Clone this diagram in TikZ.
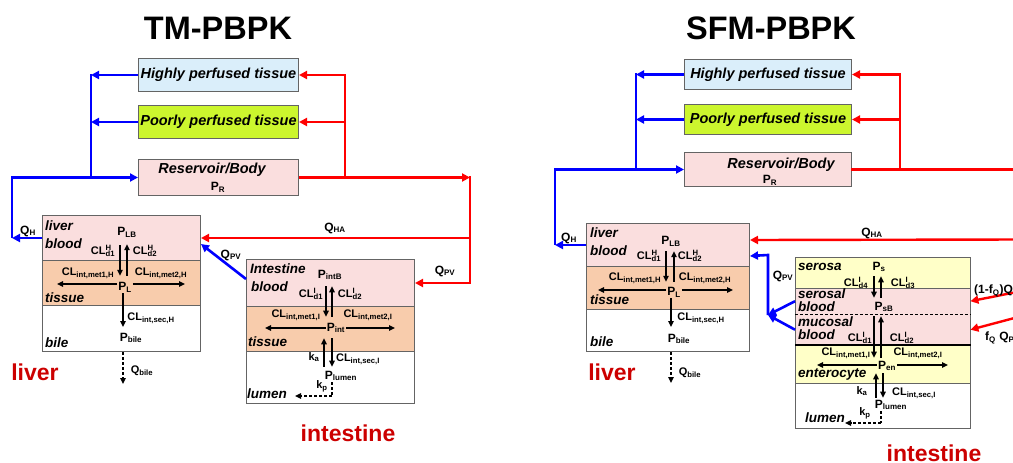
\documentclass[tikz,border=0pt]{standalone}
\usepackage{fontspec}
\setmainfont{Liberation Sans}
\usetikzlibrary{arrows.meta,calc}
\definecolor{hpc}{RGB}{218,238,250}
\definecolor{ppc}{RGB}{204,246,46}
\definecolor{pkc}{RGB}{250,222,222}
\definecolor{tsc}{RGB}{248,204,172}
\definecolor{ylc}{RGB}{255,255,200}
\definecolor{bdc}{RGB}{100,100,100}
\definecolor{orgc}{RGB}{204,0,0}
\newcommand\sbx[1]{\textsubscript{#1}}
\newcommand\spsb[2]{\rlap{\textsuperscript{#1}}\textsubscript{#2}}
\begin{document}
\begin{tikzpicture}[x=1pt,y=-1pt,
  box/.style={draw=bdc,line width=1pt,anchor=north west,inner sep=0pt,
    font=\fontsize{14.5}{16}\selectfont\bfseries\itshape},
  lay/.style={draw=bdc,line width=1pt,anchor=north west,inner sep=0pt},
  layf/.style={draw=none,anchor=north west,inner sep=0pt},
  title/.style={font=\fontsize{32.5}{36}\selectfont\bfseries},
  organ/.style={font=\fontsize{23}{26}\selectfont\bfseries,text=orgc},
  reg/.style={anchor=west,inner sep=0pt,font=\fontsize{13.5}{15}\selectfont\bfseries\itshape},
  plbl/.style={inner sep=1pt,font=\fontsize{12}{13}\selectfont\bfseries},
  clbl/.style={inner sep=1pt,font=\fontsize{11}{12}\selectfont\bfseries},
  btxt/.style={inner sep=0pt,font=\fontsize{14.5}{16}\selectfont\bfseries\itshape},
  conb/.style={draw=blue,line width=2.6pt,-{Triangle[length=8pt,width=8pt]}},
  linb/.style={draw=blue,line width=2.6pt,line cap=rect},
  conr/.style={draw=red,line width=2.4pt,-{Triangle[length=8pt,width=8pt]}},
  linr/.style={draw=red,line width=2.4pt,line cap=rect},
  arr/.style={draw=black,line width=1.4pt,-{Triangle[length=6pt,width=5.5pt]}},
  darr/.style={draw=black,line width=1.4pt,dashed,dash pattern=on 3pt off 2pt,-{Triangle[length=6pt,width=5.5pt]}},
  dlin/.style={draw=black,line width=1.4pt,dash pattern=on 3pt off 2pt},
]
\useasboundingbox (0,0) rectangle (1013,463);

%================ LEFT: TM-PBPK =================
\node[title] (t1) at (218,28) {TM-PBPK};
\node[box,fill=hpc,minimum width=160,minimum height=33] (hp1) at (138,58) {Highly perfused tissue};
\node[box,fill=ppc,minimum width=160,minimum height=33] (pp1) at (138,105) {Poorly perfused tissue};
\node[box,fill=pkc,minimum width=160,minimum height=36] (rb1) at (138,159) {};
\node[btxt] (rb1t) at (212,170) {Reservoir/Body};
\node[plbl] (pr1) at (218,187) {P\sbx{R}};

% liver
\node[lay,fill=pkc,minimum width=158,minimum height=45] (lb1) at (42,215) {};
\node[lay,fill=tsc,minimum width=158,minimum height=45] (lt1) at (42,260) {};
\node[lay,fill=white,minimum width=158,minimum height=46] (lbl1) at (42,305) {};
\node[reg] (r1a) at (45,226) {liver};
\node[reg] (r1b) at (45,244) {blood};
\node[reg] (r1c) at (45,298) {tissue};
\node[reg] (r1d) at (45,343) {bile};
\node[plbl] (plb1) at (127,232) {P\sbx{LB}};
\node[clbl] (cd11) at (103,251) {CL\spsb{H}{d1}};
\node[clbl] (cd21) at (145,251) {CL\spsb{H}{d2}};
\node[plbl] (pl1) at (125,287) {P\sbx{L}};
\node[clbl] (cm11) at (88,273) {CL\sbx{int,met1,H}};
\node[clbl] (cm21) at (161,273) {CL\sbx{int,met2,H}};
\node[clbl] (cs1) at (151,318) {CL\sbx{int,sec,H}};
\node[plbl] (pb1) at (131,338) {P\sbx{bile}};
\node[clbl] (qb1) at (142,371) {Q\sbx{bile}};
\node[organ] (o1) at (35,372) {liver};
\coordinate (lx1) at (57,284);
\coordinate (rx1) at (185,284);
\coordinate (ds1) at (123,327);
\coordinate (dq1) at (123,384);
\draw[arr,shorten <=7pt,shorten >=5pt] (plb1.south -| 120,0) -- (pl1.north -| 120,0);
\draw[arr,shorten <=5pt,shorten >=6pt] (pl1.north -| 127,0) -- (plb1.south -| 127,0);
\draw[arr] (pl1.west |- 0,284) -- (lx1);
\draw[arr] (pl1.east |- 0,284) -- (rx1);
\draw[arr] (pl1.south -| 123,0) -- (ds1);
\draw[darr] (lbl1.south -| 123,0) -- (dq1);

% intestine
\node[lay,fill=pkc,minimum width=168,minimum height=47] (ib1) at (246,259) {};
\node[lay,fill=tsc,minimum width=168,minimum height=45] (it1) at (246,306) {};
\node[lay,fill=white,minimum width=168,minimum height=52] (il1) at (246,351) {};
\node[reg] (r1e) at (250,269) {Intestine};
\node[reg] (r1f) at (251,287) {blood};
\node[reg] (r1g) at (248,342) {tissue};
\node[reg] (r1h) at (247,394) {lumen};
\node[plbl] (pib1) at (330,275) {P\sbx{intB}};
\node[clbl] (ci11) at (311,294) {CL\spsb{I}{d1}};
\node[clbl] (ci21) at (350,294) {CL\spsb{I}{d2}};
\node[plbl] (pin1) at (336,328) {P\sbx{int}};
\node[clbl] (cim11) at (296,315) {CL\sbx{int,met1,I}};
\node[clbl] (cim21) at (368,315) {CL\sbx{int,met2,I}};
\node[clbl] (ka1) at (314,357) {k\sbx{a}};
\node[clbl] (cis1) at (358,359) {CL\sbx{int,sec,I}};
\node[plbl] (plu1) at (341,376) {P\sbx{lumen}};
\node[clbl] (kp1) at (322,386) {k\sbx{p}};
\node[organ] (o2) at (348,433) {intestine};
\coordinate (lx2) at (265,328);
\coordinate (rx2) at (395,328);
\coordinate (dk1) at (332,396);
\coordinate (dk2) at (295,396);
\draw[arr,shorten <=5pt,shorten >=5pt] (pib1.south -| 326,0) -- (pin1.north -| 326,0);
\draw[arr,shorten <=5pt,shorten >=5pt] (pin1.north -| 332,0) -- (pib1.south -| 332,0);
\draw[arr] (pin1.west |- 0,328) -- (lx2);
\draw[arr] (pin1.east |- 0,328) -- (rx2);
\draw[arr,shorten <=3pt,shorten >=4pt] (plu1.north -| 324,0) -- (pin1.south -| 324,0);
\draw[arr,shorten <=4pt,shorten >=3pt] (pin1.south -| 332,0) -- (plu1.north -| 332,0);
\draw[dlin] (plu1.south -| 332,0) -- (dk1);
\draw[darr] (dk1) -- (dk2);

% blue (venous) connectors
\coordinate (bj1) at (91,0 |- hp1.west);
\coordinate (bj2) at (91,0 |- pp1.west);
\coordinate (bj3) at (91,0 |- rb1.west);
\coordinate (bq1) at (12,0 |- rb1.west);
\coordinate (bq2) at (12,0 |- lb1.west);
\draw[linb] (bj1) -- (bj3);
\draw[conb] (hp1.west) -- (bj1);
\draw[conb] (pp1.west) -- (bj2);
\draw[conb] (lb1.west) -- (bq2);
\draw[conb] (bq2) -- (bq1) -- (rb1.west);
\draw[conb] ([yshift=4pt]ib1.west) -- ([yshift=-6pt]lb1.east);
% red (arterial) connectors
\coordinate (rj1) at (345,0 |- hp1.east);
\coordinate (rj2) at (345,0 |- pp1.east);
\coordinate (rj3) at (345,0 |- rb1.east);
\coordinate (rk1) at (470,0 |- rb1.east);
\coordinate (rk2) at (470,0 |- lb1.east);
\coordinate (rk3) at (470,0 |- ib1.east);
\draw[linr] (rj1) -- (rj3);
\draw[linr] (rk1) -- (rk3);
\draw[conr] (rb1.east) -- (rk1);
\draw[conr] (rj1) -- (hp1.east);
\draw[conr] (rj2) -- (pp1.east);
\draw[conr] (rk2) -- (lb1.east);
\draw[conr] (rk3) -- (ib1.east);
\node[plbl] (qh1) at (28,231) {Q\sbx{H}};
\node[plbl] (qha1) at (335,228) {Q\sbx{HA}};
\node[plbl] (qpv1) at (231,255) {Q\sbx{PV}};
\node[plbl] (qpv2) at (445,271) {Q\sbx{PV}};

%================ RIGHT: SFM-PBPK =================
\node[title] (t2) at (771,28) {SFM-PBPK};
\node[box,fill=hpc,minimum width=167,minimum height=30] (hp2) at (684,59) {Highly perfused tissue};
\node[box,fill=ppc,minimum width=167,minimum height=30] (pp2) at (684,104) {Poorly perfused tissue};
\node[box,fill=pkc,minimum width=167,minimum height=34] (rb2) at (684,152) {};
\node[btxt] (rb2t) at (781,165) {Reservoir/Body};
\node[plbl] (pr2) at (770,180) {P\sbx{R}};

% liver
\node[lay,fill=pkc,minimum width=163,minimum height=43] (lb2) at (586,223) {};
\node[lay,fill=tsc,minimum width=163,minimum height=43] (lt2) at (586,266) {};
\node[lay,fill=white,minimum width=163,minimum height=42] (lbl2) at (586,309) {};
\node[reg] (r2a) at (590,233) {liver};
\node[reg] (r2b) at (590,251) {blood};
\node[reg] (r2c) at (590,300) {tissue};
\node[reg] (r2d) at (590,342) {bile};
\node[plbl] (plb2) at (671,241) {P\sbx{LB}};
\node[clbl] (cd12) at (649,256) {CL\spsb{H}{d1}};
\node[clbl] (cd22) at (690,256) {CL\spsb{H}{d2}};
\node[plbl] (pl2) at (674,292) {P\sbx{L}};
\node[clbl] (cm12) at (635,278) {CL\sbx{int,met1,H}};
\node[clbl] (cm22) at (705,278) {CL\sbx{int,met2,H}};
\node[clbl] (cs2) at (701,318) {CL\sbx{int,sec,H}};
\node[plbl] (pb2) at (679,339) {P\sbx{bile}};
\node[clbl] (qb2) at (690,373) {Q\sbx{bile}};
\node[organ] (o3) at (612,372) {liver};
\coordinate (lx3) at (598,290);
\coordinate (rx3) at (733,290);
\coordinate (ds3) at (671,327);
\coordinate (dq3) at (671,383);
\draw[arr,shorten <=4pt,shorten >=4pt] (plb2.south -| 666,0) -- (pl2.north -| 666,0);
\draw[arr,shorten <=4pt,shorten >=4pt] (pl2.north -| 674,0) -- (plb2.south -| 674,0);
\draw[arr] (pl2.west |- 0,290) -- (lx3);
\draw[arr] (pl2.east |- 0,290) -- (rx3);
\draw[arr] (pl2.south -| 671,0) -- (ds3);
\draw[darr] (lbl2.south -| 671,0) -- (dq3);

% intestine
\node[lay,fill=ylc,minimum width=175,minimum height=31] (se2) at (795,257) {};
\node[layf,fill=pkc,minimum width=175,minimum height=26] (sb2) at (795,288) {};
\node[layf,fill=pkc,minimum width=175,minimum height=31] (mb2) at (795,314) {};
\node[lay,fill=ylc,minimum width=175,minimum height=38] (en2) at (795,345) {};
\node[lay,fill=white,minimum width=175,minimum height=45] (lu2) at (795,383) {};
\draw[draw=bdc,line width=1pt] (sb2.north west) rectangle (mb2.south east);
\draw[dlin,line width=1.5pt] (sb2.south west) -- (sb2.south east);
\draw[line width=1.6pt] (en2.north west) -- (en2.north east);
\node[reg] (r2e) at (798,267) {serosa};
\node[reg] (r2f) at (798,294) {serosal};
\node[reg] (r2g) at (798,307) {blood};
\node[reg] (r2h) at (798,322) {mucosal};
\node[reg] (r2i) at (798,335) {blood};
\node[reg] (r2j) at (798,374) {enterocyte};
\node[reg] (r2k) at (805,418) {lumen};
\node[plbl] (ps2) at (879,267) {P\sbx{s}};
\node[clbl] (cd42) at (856,283) {CL\spsb{I}{d4}};
\node[clbl] (cd32) at (903,283) {CL\spsb{I}{d3}};
\node[plbl] (psb2) at (884,307) {P\sbx{sB}};
\node[clbl] (cd1b) at (860,338) {CL\spsb{I}{d1}};
\node[clbl] (cd2b) at (902,338) {CL\spsb{I}{d2}};
\node[clbl] (cm1b) at (846,353) {CL\sbx{int,met1,I}};
\node[clbl] (cm2b) at (918,353) {CL\sbx{int,met2,I}};
\node[plbl] (pen2) at (887,366) {P\sbx{en}};
\node[clbl] (ka2) at (862,391) {k\sbx{a}};
\node[clbl] (cis2) at (914,393) {CL\sbx{int,sec,I}};
\node[plbl] (plu2) at (891,405) {P\sbx{lumen}};
\node[clbl] (kp2) at (865,413) {k\sbx{p}};
\node[organ] (o4) at (934,453) {intestine};
\coordinate (lx4) at (817,365);
\coordinate (rx4) at (948,365);
\coordinate (dk3) at (881,423);
\coordinate (dk4) at (845,423);
\draw[arr,shorten <=3pt,shorten >=3pt] (ps2.south -| 874,0) -- (psb2.north -| 874,0);
\draw[arr,shorten <=3pt,shorten >=3pt] (psb2.north -| 881,0) -- (ps2.south -| 881,0);
\draw[arr,shorten <=3pt,shorten >=2pt] (psb2.south -| 874,0) -- (pen2.north -| 874,0);
\draw[arr,shorten <=2pt,shorten >=3pt] (pen2.north -| 881,0) -- (psb2.south -| 881,0);
\draw[arr] (pen2.west |- 0,365) -- (lx4);
\draw[arr] (pen2.east |- 0,365) -- (rx4);
\draw[arr,shorten <=1pt,shorten >=1pt] (plu2.north -| 876,0) -- (pen2.south -| 876,0);
\draw[arr,shorten <=1pt,shorten >=1pt] (pen2.south -| 883,0) -- (plu2.north -| 883,0);
\draw[dlin] (plu2.south -| 881,0) -- (dk3);
\draw[darr] (dk3) -- (dk4);

% blue connectors
\coordinate (bj4) at (636,0 |- hp2.west);
\coordinate (bj5) at (636,0 |- pp2.west);
\coordinate (bj6) at (636,0 |- rb2.west);
\coordinate (bq3) at (555,0 |- rb2.west);
\coordinate (bq4) at (555,0 |- lb2.west);
\coordinate (jn2) at (768,315);
\coordinate (jn3) at (768,255);
\draw[linb] (bj4) -- (bj6);
\draw[conb] (hp2.west) -- (bj4);
\draw[conb] (pp2.west) -- (bj5);
\draw[conb] (lb2.west) -- (bq4);
\draw[conb] (bq4) -- (bq3) -- (rb2.west);
\draw[conb] (sb2.west) -- (jn2);
\draw[conb] (mb2.west) -- (jn2);
\draw[conb] (jn2) -- (jn3) -- ([yshift=-11pt]lb2.east);
% red connectors
\coordinate (rj4) at (900,0 |- hp2.east);
\coordinate (rj5) at (900,0 |- pp2.east);
\coordinate (rj6) at (900,0 |- rb2.east);
\coordinate (re1) at (1025,0 |- rb2.east);
\coordinate (re2) at (1025,239.5);
\coordinate (re3) at (1022,291);
\coordinate (re4) at (1022,316);
\draw[linr] (rj4) -- (rj6);
\draw[linr] (rb2.east) -- (re1);
\draw[conr] (rj4) -- (hp2.east);
\draw[conr] (rj5) -- (pp2.east);
\draw[conr] (re2) -- ([yshift=5pt]lb2.east);
\draw[conr] (re3) -- (sb2.east);
\draw[conr] (re4) -- (mb2.east);
\node[plbl] (qh2) at (569,238) {Q\sbx{H}};
\node[plbl] (qha2) at (872,233) {Q\sbx{HA}};
\node[plbl] (qpv3) at (783,276) {Q\sbx{PV}};
\node[plbl,anchor=west] (fq1) at (973,291) {(1-f\sbx{Q})Q\sbx{PV}};
\node[plbl,anchor=west] (fq2) at (984,338) {f\sbx{Q} Q\sbx{PV}};
\end{tikzpicture}
\end{document}
